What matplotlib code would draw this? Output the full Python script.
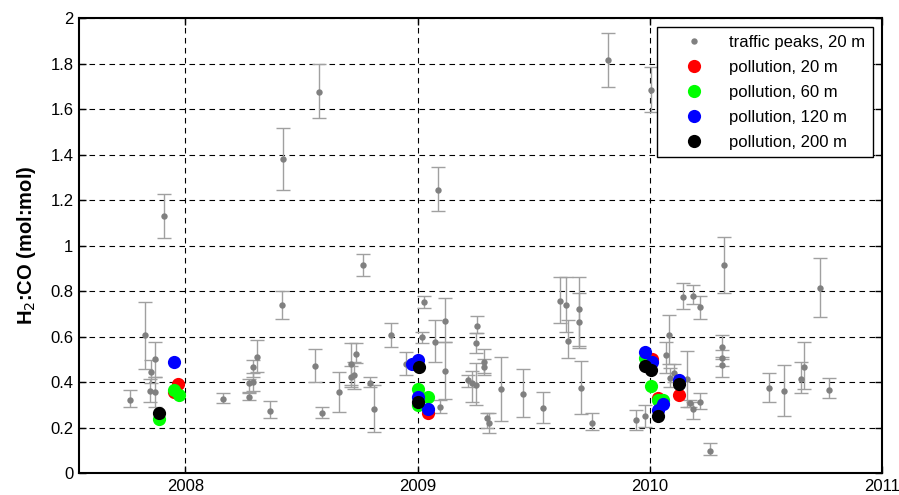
import matplotlib
matplotlib.use("Agg")
import matplotlib.pyplot as plt
import numpy as np

plt.rcParams['font.family'] = ['Liberation Sans', 'DejaVu Sans']

# traffic peaks, 20 m  (decimal year, ratio, lower bound, upper bound)
traffic_t = [2007.761, 2007.825, 2007.850, 2007.847, 2007.870, 2007.870, 2007.909,
             2008.160, 2008.273, 2008.276, 2008.292, 2008.292, 2008.309, 2008.365,
             2008.416, 2008.421, 2008.560, 2008.576, 2008.589, 2008.660, 2008.712,
             2008.715, 2008.725, 2008.736, 2008.763, 2008.794, 2008.811, 2008.884,
             2008.951, 2009.020, 2009.026, 2009.077, 2009.089, 2009.095, 2009.117,
             2009.117, 2009.216, 2009.234, 2009.250, 2009.250, 2009.255, 2009.284,
             2009.284, 2009.298, 2009.307, 2009.358, 2009.453, 2009.539, 2009.612,
             2009.637, 2009.648, 2009.694, 2009.697, 2009.705, 2009.750, 2009.819,
             2009.939, 2009.978, 2010.006, 2010.070, 2010.081, 2010.087, 2010.105,
             2010.144, 2010.161, 2010.173, 2010.184, 2010.188, 2010.218, 2010.218,
             2010.259, 2010.309, 2010.313, 2010.313, 2010.320, 2010.514, 2010.578,
             2010.652, 2010.663, 2010.732, 2010.772]
traffic_r = [0.321, 0.605, 0.443, 0.362, 0.501, 0.355, 1.130,
             0.325, 0.333, 0.394, 0.399, 0.466, 0.511, 0.274,
             0.738, 1.379, 0.472, 1.676, 0.262, 0.355, 0.478,
             0.423, 0.431, 0.523, 0.914, 0.394, 0.280, 0.607,
             0.479, 0.596, 0.750, 0.576, 1.245, 0.292, 0.668,
             0.448, 0.409, 0.394, 0.385, 0.570, 0.646, 0.489,
             0.464, 0.240, 0.221, 0.368, 0.349, 0.286, 0.757,
             0.738, 0.582, 0.722, 0.664, 0.372, 0.221, 1.815,
             0.233, 0.251, 1.684, 0.519, 0.607, 0.416, 0.441,
             0.775, 0.413, 0.306, 0.778, 0.280, 0.728, 0.313,
             0.098, 0.554, 0.504, 0.475, 0.914, 0.372, 0.360,
             0.413, 0.466, 0.815, 0.366]
traffic_lo = [0.289, 0.456, 0.395, 0.311, 0.423, 0.291, 1.033,
              0.306, 0.320, 0.355, 0.360, 0.420, 0.445, 0.240,
              0.678, 1.244, 0.401, 1.562, 0.240, 0.270, 0.387,
              0.380, 0.368, 0.485, 0.866, 0.380, 0.179, 0.553,
              0.431, 0.573, 0.724, 0.487, 1.150, 0.265, 0.577,
              0.324, 0.379, 0.311, 0.299, 0.526, 0.614, 0.441,
              0.430, 0.200, 0.177, 0.230, 0.248, 0.218, 0.661,
              0.621, 0.504, 0.548, 0.560, 0.258, 0.189, 1.698,
              0.189, 0.201, 1.588, 0.440, 0.480, 0.380, 0.400,
              0.720, 0.292, 0.290, 0.745, 0.236, 0.677, 0.280,
              0.079, 0.500, 0.470, 0.423, 0.790, 0.311, 0.252,
              0.350, 0.368, 0.684, 0.328]
traffic_hi = [0.365, 0.753, 0.497, 0.412, 0.574, 0.423, 1.225,
              0.350, 0.350, 0.412, 0.440, 0.497, 0.585, 0.318,
              0.800, 1.515, 0.544, 1.796, 0.290, 0.445, 0.573,
              0.470, 0.490, 0.573, 0.963, 0.421, 0.387, 0.661,
              0.533, 0.621, 0.778, 0.673, 1.346, 0.321, 0.771,
              0.577, 0.431, 0.450, 0.482, 0.614, 0.690, 0.544,
              0.500, 0.262, 0.262, 0.509, 0.456, 0.358, 0.860,
              0.860, 0.673, 0.860, 0.790, 0.494, 0.262, 1.936,
              0.277, 0.299, 1.786, 0.577, 0.695, 0.460, 0.480,
              0.834, 0.538, 0.320, 0.826, 0.310, 0.779, 0.350,
              0.130, 0.607, 0.540, 0.510, 1.039, 0.441, 0.475,
              0.487, 0.574, 0.946, 0.416]

# pollution events at different heights
red_t = [2007.949, 2007.969, 2008.990, 2009.044, 2010.010, 2010.035, 2010.127]
red_r = [0.357, 0.391, 0.480, 0.266, 0.501, 0.331, 0.343]
green_t = [2007.886, 2007.949, 2007.972, 2009.003, 2009.003, 2009.044,
           2009.978, 2010.006, 2010.035, 2010.058]
green_r = [0.237, 0.365, 0.343, 0.368, 0.300, 0.333, 0.504, 0.384, 0.321, 0.321]
blue_t = [2007.949, 2008.976, 2009.003, 2009.003, 2009.044, 2009.978,
          2010.010, 2010.058, 2010.035, 2010.127]
blue_r = [0.489, 0.478, 0.495, 0.335, 0.280, 0.530, 0.487, 0.302, 0.277, 0.409]
black_t = [2007.886, 2009.004, 2009.003, 2009.978, 2010.007, 2010.035, 2010.127]
black_r = [0.262, 0.464, 0.310, 0.472, 0.453, 0.251, 0.390]

fig = plt.figure(figsize=(8.99, 4.95), dpi=100)
ax = fig.add_axes([0.0879, 0.0444, 0.8932, 0.9192])

t = np.array(traffic_t)
r = np.array(traffic_r)
yerr = [r - np.array(traffic_lo), np.array(traffic_hi) - r]
ax.errorbar(t, r, yerr=yerr, fmt='none', ecolor='#a0a0a0', elinewidth=1.0,
            capsize=4.7, capthick=1.0, zorder=2)
ax.plot(t, r, 'o', color='#808080', markersize=4.6, markeredgewidth=0,
        label='traffic peaks, 20 m', zorder=3)

ms = 9.5
ax.plot(red_t, red_r, 'o', color='#ff0000', markersize=ms, markeredgewidth=0,
        label='pollution, 20 m', zorder=4)
ax.plot(green_t, green_r, 'o', color='#00ff00', markersize=ms, markeredgewidth=0,
        label='pollution, 60 m', zorder=5)
ax.plot(blue_t, blue_r, 'o', color='#0000ff', markersize=ms, markeredgewidth=0,
        label='pollution, 120 m', zorder=6)
ax.plot(black_t, black_r, 'o', color='#000000', markersize=ms, markeredgewidth=0,
        label='pollution, 200 m', zorder=7)

ax.set_xlim(2007.542, 2011)
ax.set_ylim(0, 2)
ax.set_xticks([2008, 2009, 2010, 2011])
ax.set_xticklabels(['2008', '2009', '2010', '2011'])
yt = np.arange(0, 2.01, 0.2)
ax.set_yticks(yt)
ax.set_yticklabels(['0', '0.2', '0.4', '0.6', '0.8', '1', '1.2', '1.4', '1.6', '1.8', '2'])
ax.tick_params(direction='in', top=True, right=True, length=5, width=1,
               labelsize=12, pad=4)
ax.grid(True, color='black', linestyle=(0, (5, 4)), linewidth=0.8)
ax.set_axisbelow(True)
for s in ax.spines.values():
    s.set_linewidth(1.5)

ax.set_ylabel('H$_2$:CO (mol:mol)', fontsize=14.5, fontweight='bold', labelpad=9)

leg = ax.legend(loc='upper right', fontsize=12, frameon=True, fancybox=False,
                edgecolor='black', framealpha=1, borderpad=0.45, labelspacing=0.6,
                handlelength=3.6, handletextpad=0.3, borderaxespad=0.55,
                numpoints=1, markerscale=1.0)
leg.get_frame().set_linewidth(1.0)

fig.savefig('out.png', dpi=100)
